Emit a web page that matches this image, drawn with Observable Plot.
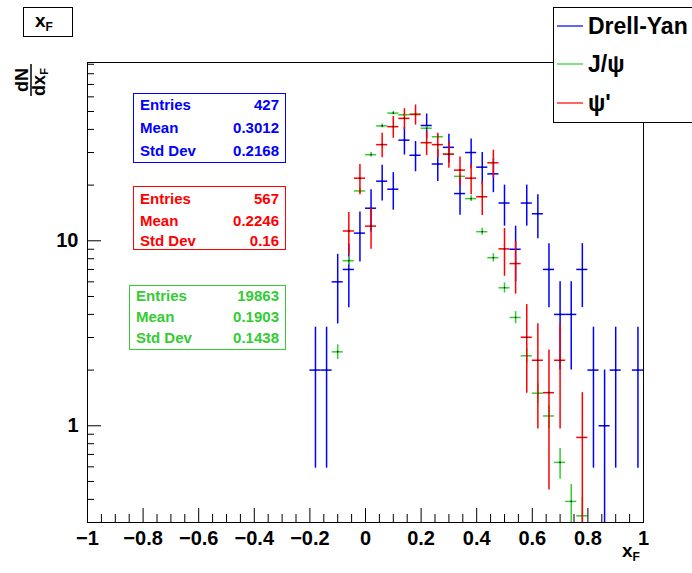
<!DOCTYPE html>
<html><head><meta charset="utf-8">
<script src="https://cdn.jsdelivr.net/npm/d3@7"></script>
<script src="https://cdn.jsdelivr.net/npm/@observablehq/plot@0.6"></script>
<style>body{margin:0;background:#fff;} #chart svg{display:block;}</style>
</head><body><div id="chart"></div>
<script>
// ---- data ----
const dyX   = [-0.18,-0.14,-0.10,-0.06,-0.02,0.02,0.06,0.10,0.14,0.18,0.22,0.26,0.30,0.34,0.38,0.42,0.46,0.50,0.54,0.58,0.62,0.66,0.70,0.74,0.78,0.82,0.86,0.90,0.98];
const dyY   = [2,2,6,7,11,15,21,19,35,29,42,26,32,18,30,25,23,16,9,16,14,7,4,4,7,2,1,2,2];
const dyErr = [1.41,1.41,2.45,2.65,3.32,3.87,4.58,4.36,5.92,5.39,6.48,5.10,5.66,4.24,5.48,5.00,4.80,4.00,3.00,4.00,3.74,2.65,2.00,2.00,2.65,1.41,1.00,1.41,1.41];

const jpsiX   = [-0.10,-0.06,-0.02,0.02,0.06,0.10,0.14,0.18,0.22,0.26,0.30,0.34,0.38,0.42,0.46,0.50,0.54,0.58,0.62,0.66,0.70,0.74,0.78];
const jpsiY   = [2.51,7.8,18.6,29.2,41.8,49.0,48.0,48.4,40.6,36.5,29.4,22.3,16.9,11.2,8.1,5.57,3.85,2.39,1.50,1.13,0.634,0.39,0.326];
const jpsiErr = [0.23,0.41,0.63,0.79,0.95,1.03,1.02,1.02,0.93,0.89,0.80,0.69,0.60,0.49,0.42,0.35,0.29,0.23,0.18,0.16,0.12,0.092,0.084];

const psi2X   = [-0.06,-0.02,0.02,0.06,0.10,0.14,0.18,0.22,0.26,0.30,0.34,0.38,0.42,0.46,0.50,0.54,0.58,0.62,0.66,0.70,0.78];
const psi2Y   = [11.3,21.8,12.0,33.1,41.4,45.9,48.2,33.9,33.1,29.4,24.1,21.8,17.3,26.4,9.04,7.53,3.01,2.26,1.51,2.26,0.865];
const psi2Err = [2.92,4.06,3.01,5.00,5.58,5.88,6.02,5.05,5.00,4.70,4.26,4.06,3.61,4.45,2.61,2.38,1.51,1.30,1.06,1.30,0.645];

const xMajor = [-1,-0.8,-0.6,-0.4,-0.2,0,0.2,0.4,0.6,0.8,1];
const xTickLabels = ["−1","−0.8","−0.6","−0.4","−0.2","0","0.2","0.4","0.6","0.8","1"];
const xMinor = [-0.95,-0.9,-0.85,-0.75,-0.7,-0.65,-0.55,-0.5,-0.45,-0.35,-0.3,-0.25,-0.15,-0.1,-0.05,0.05,0.1,0.15,0.25,0.3,0.35,0.45,0.5,0.55,0.65,0.7,0.75,0.85,0.9,0.95];
const yMajor = [1,10];
const yTickLabels = ["1","10"];
const yMinor = [0.3,0.4,0.5,0.6,0.7,0.8,0.9,2,3,4,5,6,7,8,9,20,30,40,50,60,70,80,90];

const seriesNames = ["Drell-Yan","J/ψ","ψ'"];
const statsLabels = ["Entries","Mean","Std Dev"];
const dyStats   = ["427","0.3012","0.2168"];
const psi2Stats = ["567","0.2246","0.16"];
const jpsiStats = ["19863","0.1903","0.1438"];

// ---- styling ----
const BLUE = "#0000ff", GREEN = "#33cc33", RED = "#ff0000";
const FONT = "'Liberation Sans', Arial, Helvetica, sans-serif";
const halfBin = 0.02;

function rows(xs, ys, es){ return xs.map((x,i)=>({x, y: ys[i], e: es[i]})); }
const dyRows = rows(dyX, dyY, dyErr);
const jpsiRows = rows(jpsiX, jpsiY, jpsiErr);
const psi2Rows = rows(psi2X, psi2Y, psi2Err);

function errMarks(data, color){
  return [
    Plot.ruleX(data, {x: "x", y1: d => Math.max(d.y - d.e, 0.01), y2: d => d.y + d.e, stroke: color, strokeWidth: 1.5, clip: true}),
    Plot.ruleY(data, {y: "y", x1: d => d.x - halfBin, x2: d => d.x + halfBin, stroke: color, strokeWidth: 1.5, clip: true}),
    Plot.dot(data, {x: "x", y: "y", r: 0.8, fill: "black", stroke: "none", clip: true})
  ];
}

const plot = Plot.plot({
  width: 692, height: 573,
  marginLeft: 87, marginRight: 49, marginTop: 62, marginBottom: 51,
  style: {fontFamily: FONT, background: "white", overflow: "visible"},
  x: {domain: [-1, 1]},
  y: {type: "log", domain: [0.3, 92]},
  marks: [
    ...errMarks(dyRows, BLUE),
    ...errMarks(jpsiRows, GREEN),
    ...errMarks(psi2Rows, RED),
    Plot.axisX(xMinor, {anchor: "bottom", tickSize: -8, tickFormat: () => "", label: null, stroke: "black"}),
    Plot.axisX(xMajor, {anchor: "bottom", tickSize: -14, tickPadding: 22, tickFormat: (d, i) => xTickLabels[i], label: null, fontSize: 20, fontWeight: "bold", fill: "black", stroke: "black"}),
    Plot.axisY(yMinor, {anchor: "left", tickSize: -7, tickFormat: () => "", label: null, stroke: "black"}),
    Plot.axisY(yMajor, {anchor: "left", tickSize: -14, tickFormat: () => "", label: null, stroke: "black"}),
    Plot.text(yMajor, {x: -1, y: d => d, text: (d, i) => yTickLabels[i], textAnchor: "end", dx: -9, fontSize: 20, fontWeight: "bold", fill: "black"}),
    Plot.frame({stroke: "black", strokeWidth: 1})
  ]
});
document.getElementById("chart").appendChild(plot);

// ---- annotations: title, axis titles, stats boxes, legend ----
const svg = d3.select(plot);
const g = svg.append("g").attr("font-family", FONT).attr("font-weight", "bold").attr("text-anchor", "start");

// title box
g.append("rect").attr("x", 23.5).attr("y", 7.5).attr("width", 49).attr("height", 29).attr("fill", "white").attr("stroke", "black");
const tt = g.append("text").attr("x", 35).attr("y", 27).attr("text-anchor", "start").attr("font-size", 19).attr("fill", "black");
tt.append("tspan").text("x");
tt.append("tspan").attr("font-size", 12).attr("dy", 4).text("F");

// x axis title
const xt = g.append("text").attr("x", 622).attr("y", 557).attr("text-anchor", "start").attr("font-size", 19).attr("fill", "black");
xt.append("tspan").text("x");
xt.append("tspan").attr("font-size", 12).attr("dy", 4).text("F");

// y axis title: fraction dN / dx_F rotated
const yg = g.append("g").attr("transform", "translate(31,80) rotate(-90)");
yg.append("text").attr("x", 0).attr("y", -3).attr("text-anchor", "middle").attr("font-size", 18).attr("fill", "black").text("dN");
yg.append("line").attr("x1", -16).attr("x2", 16).attr("y1", 0).attr("y2", 0).attr("stroke", "black").attr("stroke-width", 1.5);
const den = yg.append("text").attr("x", -2).attr("y", 14).attr("text-anchor", "middle").attr("font-size", 18).attr("fill", "black");
den.append("tspan").text("dx");
den.append("tspan").attr("font-size", 11).attr("dy", 3).text("F");

// stats boxes
function statsBox(x, y, w, h, color, values, rowYs){
  g.append("rect").attr("x", x + 0.5).attr("y", y + 0.5).attr("width", w).attr("height", h).attr("fill", "white").attr("stroke", color);
  statsLabels.forEach((lab, i) => {
    g.append("text").attr("x", x + 7).attr("y", rowYs[i]).attr("text-anchor", "start").attr("font-size", 15).attr("fill", color).text(lab);
    g.append("text").attr("x", x + w - 6).attr("y", rowYs[i]).attr("text-anchor", "end").attr("font-size", 15).attr("fill", color).text(values[i]);
  });
}
statsBox(133, 93, 152, 69, BLUE, dyStats, [110, 133, 156]);
statsBox(133, 186, 152, 63, RED, psi2Stats, [204, 226, 246]);
statsBox(129, 285, 156, 64, GREEN, jpsiStats, [301, 322, 343]);

// legend
g.append("rect").attr("x", 553.5).attr("y", 7.5).attr("width", 160).attr("height", 115).attr("fill", "white").attr("stroke", "black");
const legColors = [BLUE, GREEN, RED];
const legYs = [26, 64, 103];
seriesNames.forEach((name, i) => {
  g.append("line").attr("x1", 557).attr("x2", 583).attr("y1", legYs[i]).attr("y2", legYs[i]).attr("stroke", legColors[i]).attr("stroke-width", 1.2);
  g.append("text").attr("x", 588).attr("y", legYs[i] + 8).attr("text-anchor", "start").attr("font-size", 23).attr("fill", "black").text(name);
});
</script>
</body></html>
